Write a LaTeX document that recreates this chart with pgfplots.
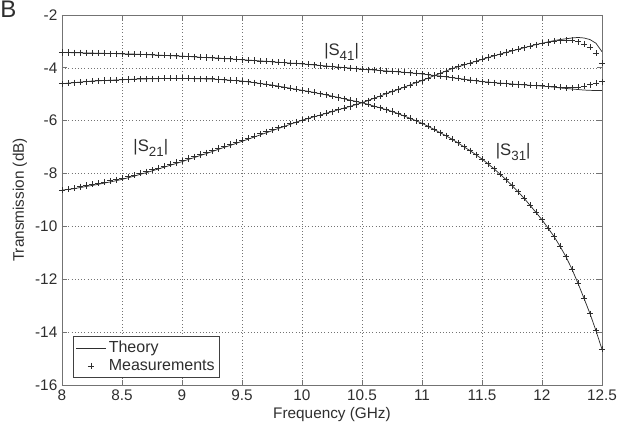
\documentclass[border=0pt]{standalone}
\usepackage{fontspec}
\setmainfont{Liberation Sans}
\usepackage{pgfplots}
\usepackage{pgfplotstable}
\pgfplotsset{compat=1.18}
\definecolor{ink}{gray}{0.18}
\definecolor{axgray}{gray}{0.45}
\definecolor{gridgray}{gray}{0.45}

\pgfplotstableread{
x t21 m21 s31 t41 m41
8.00 -8.63 -8.63 -4.60 -3.42 -3.42
8.05 -8.60 -8.59 -4.58 -3.42 -3.42
8.10 -8.57 -8.55 -4.56 -3.43 -3.43
8.15 -8.53 -8.50 -4.54 -3.43 -3.43
8.20 -8.49 -8.45 -4.52 -3.44 -3.44
8.25 -8.45 -8.41 -4.50 -3.44 -3.44
8.30 -8.41 -8.37 -4.49 -3.45 -3.45
8.35 -8.36 -8.32 -4.48 -3.45 -3.45
8.40 -8.32 -8.28 -4.47 -3.46 -3.46
8.45 -8.27 -8.23 -4.46 -3.46 -3.46
8.50 -8.22 -8.18 -4.45 -3.47 -3.47
8.55 -8.16 -8.12 -4.44 -3.48 -3.48
8.60 -8.10 -8.06 -4.43 -3.48 -3.48
8.65 -8.03 -7.99 -4.42 -3.49 -3.49
8.70 -7.97 -7.93 -4.42 -3.50 -3.50
8.75 -7.90 -7.86 -4.41 -3.51 -3.51
8.80 -7.83 -7.79 -4.41 -3.52 -3.52
8.85 -7.76 -7.72 -4.40 -3.53 -3.53
8.90 -7.69 -7.65 -4.40 -3.54 -3.54
8.95 -7.62 -7.58 -4.40 -3.55 -3.55
9.00 -7.55 -7.51 -4.40 -3.56 -3.56
9.05 -7.47 -7.43 -4.40 -3.57 -3.57
9.10 -7.40 -7.36 -4.41 -3.58 -3.58
9.15 -7.32 -7.28 -4.41 -3.60 -3.60
9.20 -7.25 -7.21 -4.42 -3.61 -3.61
9.25 -7.17 -7.13 -4.42 -3.62 -3.62
9.30 -7.09 -7.05 -4.44 -3.63 -3.63
9.35 -7.01 -6.97 -4.45 -3.65 -3.65
9.40 -6.94 -6.90 -4.47 -3.66 -3.66
9.45 -6.86 -6.82 -4.48 -3.68 -3.68
9.50 -6.78 -6.74 -4.50 -3.69 -3.69
9.55 -6.70 -6.66 -4.53 -3.71 -3.71
9.60 -6.62 -6.58 -4.56 -3.72 -3.72
9.65 -6.54 -6.50 -4.59 -3.74 -3.74
9.70 -6.46 -6.42 -4.62 -3.75 -3.75
9.75 -6.38 -6.35 -4.65 -3.77 -3.77
9.80 -6.30 -6.27 -4.69 -3.79 -3.79
9.85 -6.22 -6.20 -4.73 -3.80 -3.80
9.90 -6.14 -6.12 -4.77 -3.82 -3.82
9.95 -6.06 -6.05 -4.81 -3.83 -3.83
10.00 -5.98 -5.98 -4.85 -3.85 -3.85
10.05 -5.92 -5.92 -4.89 -3.87 -3.87
10.10 -5.85 -5.85 -4.93 -3.89 -3.89
10.15 -5.79 -5.79 -4.98 -3.91 -3.91
10.20 -5.72 -5.72 -5.02 -3.93 -3.93
10.25 -5.66 -5.66 -5.07 -3.95 -3.95
10.30 -5.59 -5.59 -5.12 -3.97 -3.97
10.35 -5.52 -5.52 -5.17 -3.99 -3.99
10.40 -5.46 -5.46 -5.22 -4.01 -4.01
10.45 -5.39 -5.39 -5.27 -4.03 -4.03
10.50 -5.32 -5.32 -5.32 -4.05 -4.05
10.55 -5.24 -5.24 -5.38 -4.07 -4.07
10.60 -5.15 -5.15 -5.45 -4.08 -4.08
10.65 -5.07 -5.07 -5.51 -4.10 -4.10
10.70 -4.98 -4.98 -5.58 -4.12 -4.12
10.75 -4.90 -4.90 -5.65 -4.13 -4.13
10.80 -4.82 -4.82 -5.73 -4.15 -4.15
10.85 -4.73 -4.73 -5.82 -4.17 -4.17
10.90 -4.65 -4.65 -5.91 -4.19 -4.19
10.95 -4.56 -4.56 -6.00 -4.21 -4.21
11.00 -4.48 -4.48 -6.10 -4.23 -4.23
11.05 -4.39 -4.39 -6.21 -4.26 -4.26
11.10 -4.30 -4.30 -6.33 -4.29 -4.29
11.15 -4.21 -4.21 -6.45 -4.31 -4.31
11.20 -4.12 -4.12 -6.57 -4.34 -4.34
11.25 -4.03 -4.03 -6.70 -4.37 -4.37
11.30 -3.96 -3.96 -6.84 -4.40 -4.40
11.35 -3.89 -3.89 -6.99 -4.43 -4.43
11.40 -3.82 -3.82 -7.13 -4.46 -4.46
11.45 -3.75 -3.75 -7.29 -4.49 -4.49
11.50 -3.68 -3.68 -7.45 -4.52 -4.52
11.55 -3.61 -3.61 -7.63 -4.54 -4.54
11.60 -3.55 -3.55 -7.82 -4.56 -4.56
11.65 -3.48 -3.48 -8.02 -4.58 -4.58
11.70 -3.42 -3.42 -8.23 -4.59 -4.59
11.75 -3.36 -3.36 -8.45 -4.61 -4.61
11.80 -3.30 -3.30 -8.69 -4.63 -4.63
11.85 -3.24 -3.24 -8.93 -4.64 -4.64
11.90 -3.18 -3.18 -9.20 -4.66 -4.66
11.95 -3.12 -3.12 -9.47 -4.67 -4.67
12.00 -3.07 -3.07 -9.75 -4.69 -4.68
12.05 -3.02 -3.04 -10.06 -4.71 -4.70
12.10 -2.97 -3.00 -10.38 -4.73 -4.72
12.15 -2.93 -2.97 -10.75 -4.76 -4.74
12.20 -2.90 -2.95 -11.15 -4.78 -4.76
12.25 -2.87 -2.96 -11.62 -4.80 -4.76
12.30 -2.85 -3.02 -12.15 -4.82 -4.74
12.35 -2.87 -3.10 -12.72 -4.84 -4.70
12.40 -2.93 -3.22 -13.30 -4.85 -4.64
12.45 -3.07 -3.45 -13.95 -4.86 -4.58
12.50 -3.39 -3.83 -14.65 -4.86 -4.52
}\datatab

\begin{document}
\begin{tikzpicture}
\useasboundingbox (-46.5pt,-36.75pt) rectangle (425.25pt,288.75pt);
\begin{axis}[
  at={(0pt,0pt)}, anchor=south west,
  scale only axis, width=405pt, height=277.5pt,
  xmin=8, xmax=12.5, ymin=-16, ymax=-2,
  xtick={8,8.5,9,9.5,10,10.5,11,11.5,12,12.5},
  ytick={-16,-14,-12,-10,-8,-6,-4,-2},
  /pgf/number format/assume math mode=true,
  xticklabel style={font=\fontsize{11.5}{13}\selectfont, text=ink},
  yticklabel style={font=\fontsize{11.5}{13}\selectfont, text=ink},
  grid=major,
  grid style={dotted, gridgray, line width=0.5pt},
  axis line style={axgray, line width=0.7pt},
  tick style={axgray, line width=0.6pt},
  tick align=inside, tick pos=both, major tick length=4pt,
  xlabel={Frequency (GHz)}, ylabel={Transmission (dB)},
  every axis x label/.style={at={(axis description cs:0.5,-0.081)}, anchor=center, font=\fontsize{11.5}{13}\selectfont, text=ink},
  every axis y label/.style={at={(axis description cs:-0.078,0.5)}, anchor=center, rotate=90, font=\fontsize{11.5}{13}\selectfont, text=ink},
  legend style={at={(0.0204,0.0189)}, anchor=south west, draw=black!75, fill=white,
    font=\fontsize{12}{13.5}\selectfont, text=ink, inner sep=1.8pt, row sep=-0.5pt,
    line width=0.6pt},
  legend cell align=left,
  legend image code/.code={\draw[mark repeat=2,mark phase=2,#1] plot coordinates {(0cm,0cm) (0.39cm,0cm) (0.78cm,0cm)};},
]
\addplot[no marks, ink, line width=0.55pt] table[x=x,y=t21] {\datatab};
\addlegendentry{Theory}
\addplot[only marks, mark=+, mark size=2.3pt, ink, line width=0.7pt] table[x=x,y=m21] {\datatab};
\addlegendentry{Measurements}
\addplot[no marks, ink, line width=0.55pt, forget plot] table[x=x,y=s31] {\datatab};
\addplot[only marks, mark=+, mark size=2.3pt, ink, line width=0.7pt, forget plot] table[x=x,y=s31] {\datatab};
\addplot[no marks, ink, line width=0.55pt, forget plot] table[x=x,y=t41] {\datatab};
\addplot[only marks, mark=+, mark size=2.3pt, ink, line width=0.7pt, forget plot] table[x=x,y=m41] {\datatab};
\node[font=\fontsize{12.5}{14}\selectfont, text=ink] at (axis cs:8.74,-7.03) {|S\raisebox{-4pt}{\fontsize{10}{10}\selectfont 21}|};
\node[font=\fontsize{12.5}{14}\selectfont, text=ink] at (axis cs:10.33,-3.40) {|S\raisebox{-4pt}{\fontsize{10}{10}\selectfont 41}|};
\node[font=\fontsize{12.5}{14}\selectfont, text=ink] at (axis cs:11.76,-7.18) {|S\raisebox{-4pt}{\fontsize{10}{10}\selectfont 31}|};
\end{axis}
\node[anchor=north west, inner sep=0pt, font=\fontsize{18}{19}\selectfont, text=ink] at (-46.5pt,288.5pt) {B};
\end{tikzpicture}
\end{document}
